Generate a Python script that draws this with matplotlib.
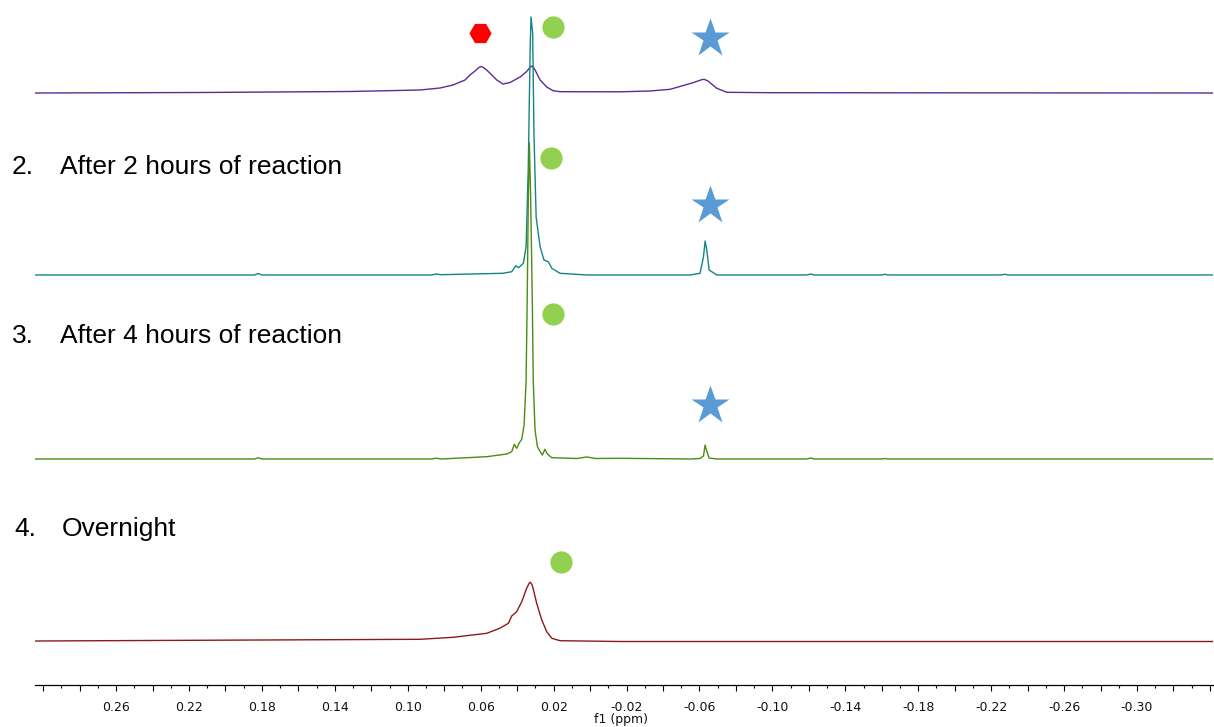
import matplotlib
matplotlib.use("Agg")
import matplotlib.pyplot as plt
from matplotlib.ticker import MultipleLocator, FuncFormatter

# ---------------- data (ppm, intensity above each baseline) ----------------
ppm_1 = [0.3045, 0.2140, 0.1317, 0.0933, 0.0823, 0.0752, 0.0686, 0.0659, 0.0631,
         0.0610, 0.0598, 0.0585, 0.0567, 0.0512, 0.0478, 0.0439, 0.0384, 0.0348,
         0.0330, 0.0320, 0.0310, 0.0302, 0.0274, 0.0238, 0.0203, 0.0165, -0.0164,
         -0.0329, -0.0439, -0.0565, -0.0610, -0.0625, -0.0647, -0.0695, -0.0750,
         -0.0987, -0.3417]
int_1 = [0, 0.5, 1.5, 3, 5, 8, 13, 18, 22,
         25.5, 26.5, 25.5, 23, 13, 9, 10.5, 16, 21.5,
         25.5, 27, 25.5, 23, 13, 6, 2.3, 1.3, 1.2,
         2, 3.7, 10.3, 13.2, 13.7, 12, 4.7, 0.7,
         0.3, 0]

ppm_2 = [0.3045, 0.1840, 0.1822, 0.1799, 0.0869, 0.0845, 0.0817, 0.0478, 0.0430,
         0.0407, 0.0393, 0.0366, 0.0351, 0.0339, 0.0329, 0.0324, 0.0315, 0.0308,
         0.0296, 0.0274, 0.0253, 0.0229, 0.0210, 0.0165, 0.0018, -0.0548,
         -0.0603, -0.0622, -0.0631, -0.0640, -0.0653, -0.0695, -0.1188, -0.1212,
         -0.1229, -0.1601, -0.1618, -0.1632, -0.2252, -0.2276, -0.2294, -0.3417]
int_2 = [0, 0, 1.5, 0, 0, 1, 0.3, 1.7, 3.3,
         9.3, 7.3, 11.7, 28.3, 108, 225, 258, 242, 142,
         58, 28, 15, 13.3, 6.7, 1.7, 0, 0,
         1.7, 18, 34, 25, 5, 0, 0, 1,
         0, 0, 0.7, 0, 0, 0.7, 0, 0]

ppm_3 = [0.3045, 0.1840, 0.1822, 0.1799, 0.0869, 0.0845, 0.0817, 0.0567, 0.0457,
         0.0430, 0.0416, 0.0403, 0.0388, 0.0375, 0.0362, 0.0351, 0.0345, 0.0339,
         0.0333, 0.0326, 0.0317, 0.0312, 0.0302, 0.0289, 0.0274, 0.0262, 0.0248,
         0.0235, 0.0210, 0.0073, 0.0018, -0.0030, -0.0164, -0.0548, -0.0603,
         -0.0622, -0.0631, -0.0640, -0.0653, -0.0695, -0.1188, -0.1212, -0.1229,
         -0.1601, -0.1618, -0.1632, -0.3417]
int_3 = [0, 0, 1.2, 0, 0, 0.8, 0, 2.3, 5,
         7.3, 14.7, 10.7, 16.3, 19.7, 34, 79, 159, 260,
         316, 260, 159, 79, 29, 12.3, 7.3, 4, 9.7,
         5, 1.3, 0.5, 2, 0.5, 0.7, 0, 0.5,
         3, 14, 8, 1, 0, 0, 1, 0,
         0, 0.5, 0, 0]

ppm_4 = [0.3045, 0.0933, 0.0752, 0.0567, 0.0496, 0.0448, 0.0430, 0.0403, 0.0375,
         0.0348, 0.0335, 0.0329, 0.0322, 0.0315, 0.0293, 0.0265, 0.0238, 0.0210,
         0.0165, -0.0164, -0.3417]
int_4 = [0.5, 2.2, 4.2, 8.2, 13.2, 18.2, 25.5, 29.8, 39.8,
         53.2, 58, 59.2, 58, 54.8, 38.2, 21.5, 9.8, 3.2,
         0.8, 0, 0]

labels = ["2.", "After 2 hours of reaction",
          "3.", "After 4 hours of reaction",
          "4.", "Overnight"]

# ---------------- layout / style ----------------
W, H = 1214, 727
fig = plt.figure(figsize=(W / 100, H / 100), dpi=100)
ax_left, ax_right, ax_bottom_px = 35, 1213, 685
ax = fig.add_axes([ax_left / W, (H - ax_bottom_px) / H,
                   (ax_right - ax_left) / W, ax_bottom_px / H])
ax.set_xlim(0.3045, -0.3417)
ax.set_ylim(0, ax_bottom_px)

baselines = [592, 410, 226, 43.5]
colors = ["#5a2d91", "#138585", "#4a8c14", "#8c1a1a"]
spectra = [(ppm_1, int_1), (ppm_2, int_2), (ppm_3, int_3), (ppm_4, int_4)]
for (p, v), b, c in zip(spectra, baselines, colors):
    ax.plot(p, [b + y for y in v], color=c, lw=1.0, solid_joinstyle="round")

# markers
green = "#92d050"
blue = "#5b9bd5"
mk = dict(clip_on=False, linestyle="none", zorder=5)
ax.plot([0.0602], [651.7], marker="H", ms=16, color="#ff0000", mec="none", **mk)
ax.plot([0.0202, 0.0215, 0.0202, 0.0161], [658.3, 526.7, 370.7, 123.3],
        marker="o", ms=16, color=green, mec="none", **mk)
ax.plot([-0.0658, -0.0658, -0.0658], [647, 480.5, 280],
        marker="*", ms=29.5, color=blue, mec="none", **mk)

# axes styling
for s in ["top", "left", "right"]:
    ax.spines[s].set_visible(False)
ax.spines["bottom"].set_linewidth(0.9)
ax.set_yticks([])
ax.xaxis.set_major_locator(MultipleLocator(0.02))
ax.xaxis.set_minor_locator(MultipleLocator(0.01))


def fmt(x, pos):
    k = round(x * 100)
    if -31 < k < 27 and k % 4 in (2, -2):
        return f"{x:.2f}"
    return ""


ax.xaxis.set_major_formatter(FuncFormatter(fmt))
ax.tick_params(axis="x", which="major", length=4.2, width=0.8, pad=7,
               labelsize=9, labelcolor="#111111")
ax.tick_params(axis="x", which="minor", length=2.2, width=0.8)
fig.text(621 / W, 1 - 719 / H, "f1 (ppm)", ha="center", va="center",
         fontsize=9, color="#111111")

# text labels
tfont = dict(family=["Liberation Sans", "DejaVu Sans"], fontsize=19,
             va="baseline", color="black")
fig.text(12 / W, 1 - 174 / H, labels[0], **tfont)
fig.text(60 / W, 1 - 174 / H, labels[1], **tfont)
fig.text(12 / W, 1 - 343 / H, labels[2], **tfont)
fig.text(60 / W, 1 - 343 / H, labels[3], **tfont)
fig.text(14 / W, 1 - 536 / H, labels[4], **tfont)
fig.text(62 / W, 1 - 536 / H, labels[5], **tfont)

fig.savefig("out.png", dpi=100)
